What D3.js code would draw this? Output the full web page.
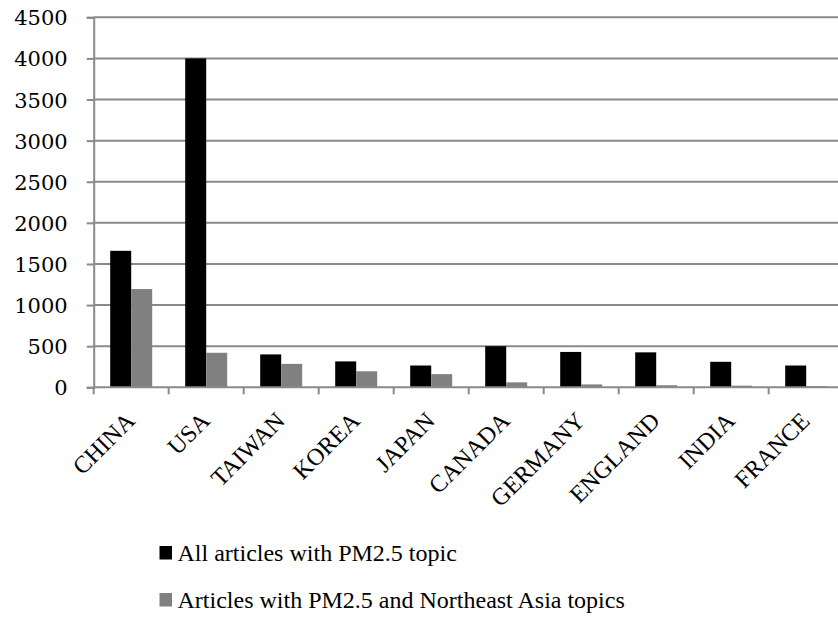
<!DOCTYPE html>
<html>
<head>
<meta charset="utf-8">
<script src="https://cdn.jsdelivr.net/npm/d3@7"></script>
<style>
  html, body { margin: 0; padding: 0; background: #fff; }
  svg { display: block; }
  text { font-family: "Liberation Serif", "Times New Roman", serif; fill: #000; }
</style>
</head>
<body>
<svg id="chart" width="838" height="617"></svg>
<script>
// Countries on the x axis
const countries = ["CHINA", "USA", "TAIWAN", "KOREA", "JAPAN", "CANADA", "GERMANY", "ENGLAND", "INDIA", "FRANCE"];
// Article counts per country
const allArticles = [1660, 4000, 400, 315, 265, 500, 430, 425, 310, 265];
const asiaArticles = [1195, 420, 285, 195, 160, 60, 35, 25, 20, 15];
// Series names and y tick values
const seriesNames = ["All articles with PM2.5 topic", "Articles with PM2.5 and Northeast Asia topics"];
const seriesColors = ["#000000", "#808080"];
const yTicks = [0, 500, 1000, 1500, 2000, 2500, 3000, 3500, 4000, 4500];

const svg = d3.select("#chart");
const plotLeft = 93.7, plotRight = 843.7, plotTop = 17.3, plotBottom = 387.3;

const x0 = d3.scaleBand().domain(countries).range([plotLeft, plotRight])
  .paddingInner(0.44).paddingOuter(0.22);
const x1 = d3.scaleBand().domain([0, 1]).range([0, x0.bandwidth()]);
const y = d3.scaleLinear().domain([0, 4500]).range([plotBottom, plotTop]);

const gridColor = "#8a8a8a";

// horizontal gridlines
svg.append("g").selectAll("line").data(yTicks.filter(d => d > 0)).join("line")
  .attr("x1", plotLeft).attr("x2", plotRight)
  .attr("y1", d => y(d)).attr("y2", d => y(d))
  .attr("stroke", gridColor).attr("stroke-width", 2);

// bars
const rows = countries.map((c, i) => ({ c, v: [allArticles[i], asiaArticles[i]] }));
const groups = svg.append("g").selectAll("g").data(rows).join("g")
  .attr("transform", d => `translate(${x0(d.c)},0)`);
groups.selectAll("rect").data(d => d.v.map((v, k) => ({ v, k }))).join("rect")
  .attr("x", d => x1(d.k))
  .attr("width", x1.bandwidth())
  .attr("y", d => y(d.v))
  .attr("height", d => y(0) - y(d.v))
  .attr("fill", d => seriesColors[d.k]);

// y axis
const yAxis = svg.append("g").attr("transform", `translate(${plotLeft},0)`)
  .call(d3.axisLeft(y).tickValues(yTicks).tickSize(7).tickPadding(19).tickFormat(d3.format("d")));
yAxis.select(".domain").attr("stroke", gridColor).attr("stroke-width", 2);
yAxis.selectAll(".tick line").attr("stroke", gridColor).attr("stroke-width", 2);
yAxis.selectAll(".tick text")
  .style("font-family", "'DejaVu Serif', serif")
  .attr("font-size", 21).attr("fill", "#000").attr("dy", "0.36em");

// x axis
const xTickPos = countries.map(c => x0(c) - x0.step() * 0.22).concat([plotRight]);
const xAxisG = svg.append("g");
xAxisG.append("line").attr("x1", plotLeft).attr("x2", plotRight)
  .attr("y1", plotBottom).attr("y2", plotBottom)
  .attr("stroke", gridColor).attr("stroke-width", 2);
xAxisG.selectAll("line.tk").data(xTickPos).join("line").attr("class", "tk")
  .attr("x1", d => d).attr("x2", d => d)
  .attr("y1", plotBottom).attr("y2", plotBottom + 7)
  .attr("stroke", gridColor).attr("stroke-width", 2);

// rotated category labels
xAxisG.selectAll("text").data(countries).join("text")
  .attr("transform", d => `translate(${x0(d) + x0.bandwidth() / 2 + 5},${plotBottom + 35}) rotate(-45)`)
  .attr("text-anchor", "end")
  .attr("font-size", 24)
  .text(d => d);

// legend
const legend = svg.append("g").selectAll("g").data(seriesNames).join("g")
  .attr("transform", (d, i) => `translate(159.5,${546 + i * 47})`);
legend.append("rect").attr("width", 12.5).attr("height", 13.5)
  .attr("fill", (d, i) => seriesColors[i]);
legend.append("text").attr("x", 18).attr("y", 15)
  .attr("font-size", 24).text(d => d);
</script>
</body>
</html>
